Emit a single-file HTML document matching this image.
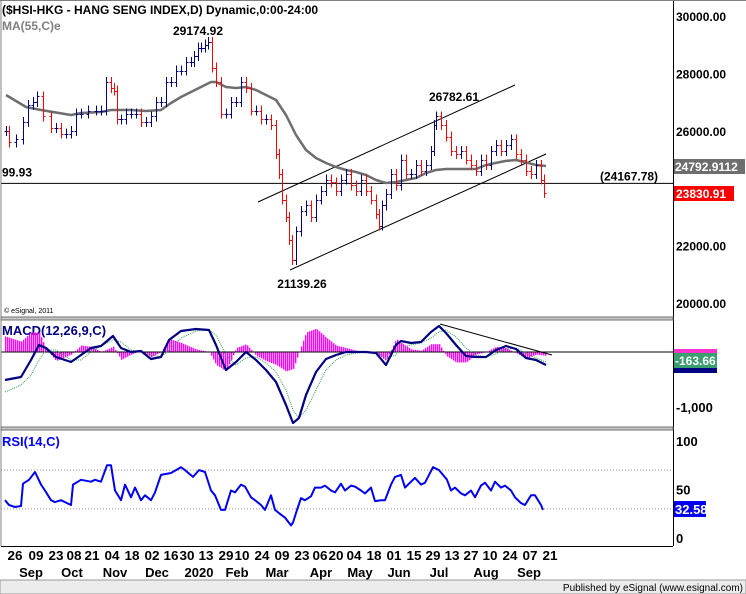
<!DOCTYPE html>
<html><head><meta charset="utf-8">
<style>
html,body{margin:0;padding:0;background:#fff;}
svg{display:block;font-family:"Liberation Sans",Arial,sans-serif;}
</style></head>
<body>
<svg id="chart" width="746" height="594" viewBox="0 0 746 594">
<rect x="0" y="0" width="746" height="594" fill="#fff"/>
<g id="g-main"></g>
<g id="g-macd"></g>
<g id="g-rsi"></g>
<g id="g-axis"></g>
</svg>
<script>
// ---- data ----
const priceDays = [2.5,4,7.5,11,13.5,16,18,21,25,27.5,30,32.5,35,37.5,40,43.5,47.5,50,52.5,55,56.5,58,60,62.5,65,67.5,70,72.5,75,77.5,80,82.5,85,87.5,90,92.5,95,96.5,98.5,100,102,103.5,105.5,107.5,110,112.5,115,117.5,120,122.5,125,127.5,130,132.5,135,137.5,139,140.5,142.5,144,145.5,147.5,150,152.5,155,157.5,160,162.5,165,167.5,170,172.5,175,177.5,180,182.5,185,187.5,189,190.5,192.5,195,197.5,200,202.5,205,207.5,210,212.5,215,216.5,217.5,220,222.5,225,227.5,230,232.5,235,237.5,240,242.5,245,247.5,250,252.5,255,257.5,260,262.5,265,267.5,270,271.5];
const priceClose = [26000,25600,25700,26300,26900,27000,27200,26500,26100,26100,25900,25900,26000,26600,26600,26700,26700,26700,27700,27500,27400,26400,26400,26600,26600,26600,26300,26300,26500,27000,27000,27700,27700,28100,28100,28400,28400,28600,28900,28900,29000,29100,28200,27700,26600,26600,27000,27000,27700,27500,26700,26700,26400,26400,26200,25200,24500,23600,23000,22200,21500,22500,23200,23400,23000,23600,23900,24300,24200,23900,24300,24500,24100,23900,24300,23900,23600,23100,22700,23400,23800,24500,24100,25000,24500,24500,24800,24600,24800,25300,26200,26500,26200,25800,25300,25200,25300,25000,24800,24600,25000,24800,25300,25500,25300,25500,25700,25200,25000,24600,24500,24800,24300,23830];
const maDays = [2.5,12.5,20,35,40,50,55,65,72.5,80,85,90,95,100,105,107.5,112.5,117.5,122.5,127.5,132.5,137.5,142.5,147.5,152.5,157.5,162.5,167.5,172.5,177.5,182.5,187.5,192.5,197.5,202.5,207.5,212.5,217.5,222.5,227.5,232.5,237.5,242.5,247.5,252.5,257.5,262.5,267.5,272.5];
const maVals = [27248,26830,26725,26551,26620,26655,26725,26725,26690,26725,26969,27178,27352,27526,27700,27700,27526,27491,27526,27422,27248,27074,26551,25854,25332,25053,24879,24740,24635,24565,24461,24286,24181,24216,24286,24356,24530,24635,24670,24670,24670,24670,24809,24880,24950,24983,24900,24810,24774];
const macdDays = [2,10,15,19,22.5,27.5,35,40,45,50,56,60,65,70,75,80,84,90,97.5,104,107.5,112.5,117.5,122.5,127.5,132.5,137.5,142.5,146,149,152.5,157.5,162.5,167.5,172.5,177.5,182.5,187.5,192.5,197.5,200,205,210,215,219,222.5,227.5,232.5,237.5,242.5,247.5,252.5,257.5,262.5,267.5,272.5];
const macdVals = [-509,-455,-145,127,73,-91,-182,-55,73,109,291,73,0,18,-127,-91,218,382,418,400,127,-327,-182,0,-145,-327,-545,-964,-1291,-1200,-782,-364,-127,-55,0,0,0,-18,-236,127,200,164,182,364,473,345,127,-73,-91,-91,36,109,55,-109,-145,-236];
const signalVals = [-727,-600,-418,-145,36,36,-145,-145,0,109,218,182,36,0,-55,-91,36,255,382,400,309,-55,-236,-109,-91,-200,-364,-691,-1055,-1200,-1055,-691,-327,-145,-55,-18,0,0,-109,-55,73,127,164,255,364,400,273,73,-55,-91,-36,55,73,-18,-109,-182];
const rsiDays = [2,4,7,10,11,14,17,20,22,25,27,30,32,35,36,40,45,47,50,53,55,57,60,62,65,67,70,72,75,77,80,85,90,92,96,99,102,105,107,110,112,115,117,120,122,125,127,130,132,135,137,140,142,145,146,148,150,152,155,157,160,162,165,167,170,172,175,177,180,182,185,187,190,192,195,197,200,202,205,207,210,212,216,219,221,223,225,227,230,232,235,237,240,242,245,247,250,252,255,257,260,262,265,267,270,271];
const rsiVals = [39,34,32,33,56,60,68,55,49,39,37,39,37,34,55,60,58,60,58,75,75,49,39,55,42,52,39,44,39,47,65,67,73,70,63,70,68,49,44,29,29,49,47,55,53,42,39,34,29,44,29,24,21,13,16,29,41,39,43,52,52,54,49,47,56,49,54,53,49,46,52,38,39,39,55,63,65,52,58,62,55,57,73,70,65,60,49,52,46,44,49,42,54,57,49,58,52,54,49,42,36,34,44,44,34,29];
const dateLabels = ["26","09","23","08","21","04","18","02","16","30","13","29","10","24","09","23","06","20","04","18","01","15","29","13","27","10","24","07","21"];
const dateDays = [7,17.5,27.5,36.5,45.5,55.5,65.5,75.5,85,93,102.5,112.5,120.5,130.5,140.5,150.5,159.5,167.5,176.5,186.5,196.5,206.5,216,225.5,235,244.5,254.5,264.5,274.5];
const monthLabels = ["Sep","Oct","Nov","Dec","2020","Feb","Mar","Apr","May","Jun","Jul","Aug","Sep"];
const monthDays = [15,35.5,57,78,99,118,138,160,179.5,199,219,242.5,264];
const priceTicks = [30000,28000,26000,22000,20000];

// ---- scales ----
const NS='http://www.w3.org/2000/svg';
const X = d => 1 + d*2;
const PY = p => 16 + (30000-p)*0.0287;
const MY = v => 352 - v*0.055;
const RY = v => 538 - v*0.97;
function mk(tag, attrs, parent, text){
  const e=document.createElementNS(NS,tag);
  for(const k in attrs) e.setAttribute(k,attrs[k]);
  if(text!==undefined) e.textContent=text;
  parent.appendChild(e); return e;
}
const gM=document.getElementById('g-main'), gD=document.getElementById('g-macd'), gR=document.getElementById('g-rsi'), gA=document.getElementById('g-axis');

// ---- frame ----
let e;
e=mk('line',{x1:1,y1:0,x2:1,y2:546,stroke:'#808080','stroke-width':1},gA);


e=mk('line',{x1:673.5,y1:0,x2:673.5,y2:546,stroke:'#000','stroke-width':1},gA);


e=mk('line',{x1:0,y1:0.5,x2:746,y2:0.5,stroke:'#808080','stroke-width':1},gA);


[[317,320],[427,430]].forEach(([a,b],i)=>{
  e=mk('rect',{x:1,y:a,width:672,height:b-a,fill:'#c8c8c8',stroke:'#707070','stroke-width':1},gA);
  
  
});
e=mk('line',{x1:1,y1:546.5,x2:673,y2:546.5,stroke:'#000','stroke-width':1},gA);



// ---- main panel ----
e=mk('text',{x:2,y:14,'font-size':12,'font-weight':'bold',fill:'#000'},gM,'($HSI-HKG - HANG SENG INDEX,D) Dynamic,0:00-24:00');


e=mk('text',{x:2,y:30,'font-size':12,'font-weight':'bold',fill:'#808080'},gM,'MA(55,C)e');


priceTicks.forEach(p=>{
  e=mk('text',{x:676,y:PY(p)+5,'font-size':12,'font-weight':'bold',fill:'#000'},gM,p.toFixed(2));
  
  
});
e=mk('line',{x1:1,y1:PY(24167.78),x2:673,y2:PY(24167.78),stroke:'#000','stroke-width':1},gM);


e=mk('text',{x:600,y:PY(24167.78)-3,'font-size':12,'font-weight':'bold',fill:'#000'},gM,'(24167.78)');


e=mk('text',{x:2,y:PY(24167.78)-7,'font-size':12,'font-weight':'bold',fill:'#000'},gM,'99.93');


e=mk('line',{x1:258,y1:202,x2:515,y2:85,stroke:'#000','stroke-width':1},gM);


e=mk('line',{x1:290,y1:270,x2:546,y2:154,stroke:'#000','stroke-width':1},gM);


e=mk('polyline',{points:maDays.map((d,i)=>X(d)+','+PY(maVals[i]).toFixed(1)).join(' '),fill:'none',stroke:'#6e6e6e','stroke-width':2.5,'stroke-linejoin':'round'},gM);


priceDays.forEach((d,i)=>{
  const c=priceClose[i], o= i>0?priceClose[i-1]:c;
  const down=c<o; const col=down?'#ff0000':'#000080';
  const hi=Math.max(o,c), lo=Math.min(o,c);
  const g=mk('g',{'shape-rendering':'crispEdges'},gM);
  
  
  const x=Math.round(X(d))+0.5;
  mk('line',{x1:x,y1:PY(hi)-5,x2:x,y2:PY(lo)+5,stroke:col,'stroke-width':1.3},g);
  mk('line',{x1:x-2,y1:Math.round(PY(o))+0.5,x2:x,y2:Math.round(PY(o))+0.5,stroke:col,'stroke-width':1},g);
  mk('line',{x1:x,y1:Math.round(PY(c))+0.5,x2:x+2,y2:Math.round(PY(c))+0.5,stroke:col,'stroke-width':1},g);
});
e=mk('text',{x:198,y:35,'font-size':12,'font-weight':'bold','text-anchor':'middle',fill:'#000'},gM,'29174.92');


e=mk('text',{x:302,y:288,'font-size':12,'font-weight':'bold','text-anchor':'middle',fill:'#000'},gM,'21139.26');


e=mk('text',{x:454,y:101,'font-size':12,'font-weight':'bold','text-anchor':'middle',fill:'#000'},gM,'26782.61');


e=mk('text',{x:4,y:313,'font-size':7,fill:'#000'},gM,'© eSignal, 2011');


e=mk('rect',{x:674,y:159,width:71,height:15,fill:'#6e6e6e'},gM);


e=mk('text',{x:675,y:171,'font-size':12,'font-weight':'bold',fill:'#fff'},gM,'24792.9112');


e=mk('rect',{x:674,y:186,width:60,height:15,fill:'#ff0000'},gM);


e=mk('text',{x:676,y:198,'font-size':12,'font-weight':'bold',fill:'#fff'},gM,'23830.91');



// ---- MACD panel ----
e=mk('text',{x:2,y:335,'font-size':13,'font-weight':'bold',fill:'#000080'},gD,'MACD(12,26,9,C)');


for(let d=macdDays[0]; d<=macdDays[macdDays.length-1]; d+=1){
  let k=0; while(k<macdDays.length-2 && macdDays[k+1]<d) k++;
  const t=(d-macdDays[k])/(macdDays[k+1]-macdDays[k]);
  const diff=(macdVals[k]+(macdVals[k+1]-macdVals[k])*t)-(signalVals[k]+(signalVals[k+1]-signalVals[k])*t);
  const h=diff*1.3;
  e=mk('rect',{x:Math.round(X(d)),y:Math.min(MY(0),MY(h)),width:1.4,height:Math.abs(MY(h)-MY(0)),fill:'#ff00ff'},gD);
  
  
}
e=mk('line',{x1:1,y1:MY(0),x2:673,y2:MY(0),stroke:'#000','stroke-width':1},gD);


e=mk('polyline',{points:macdDays.map((d,i)=>X(d)+','+MY(signalVals[i]).toFixed(1)).join(' '),fill:'none',stroke:'#2e9e4e','stroke-width':1,'stroke-dasharray':'1,1'},gD);


e=mk('polyline',{points:macdDays.map((d,i)=>X(d)+','+MY(macdVals[i]).toFixed(1)).join(' '),fill:'none',stroke:'#000080','stroke-width':2.2,'stroke-linejoin':'round'},gD);


e=mk('line',{x1:440,y1:324,x2:552,y2:355,stroke:'#000','stroke-width':1},gD);


e=mk('text',{x:676,y:MY(-1000)+5,'font-size':13,'font-weight':'bold',fill:'#000'},gD,'-1,000');


e=mk('rect',{x:674,y:349,width:43,height:8,fill:'#ff33cc'},gD);


e=mk('rect',{x:674,y:365,width:43,height:8,fill:'#000080'},gD);


e=mk('rect',{x:674,y:353,width:43,height:15,fill:'#3a9e6e'},gD);


e=mk('text',{x:675,y:365,'font-size':12,'font-weight':'bold',fill:'#fff'},gD,'-163.66');



// ---- RSI panel ----
e=mk('text',{x:2,y:446,'font-size':13,'font-weight':'bold',fill:'#0000ff'},gR,'RSI(14,C)');


[70,30].forEach(v=>{
  e=mk('line',{x1:1,y1:RY(v),x2:673,y2:RY(v),stroke:'#999','stroke-width':1,'stroke-dasharray':'1,2'},gR);
  
  
});
[100,50,0].forEach(v=>{
  e=mk('text',{x:676,y:RY(v)+5,'font-size':13,'font-weight':'bold',fill:'#000'},gR,String(v));
  
  
});
e=mk('polyline',{points:rsiDays.map((d,i)=>X(d)+','+RY(rsiVals[i]).toFixed(1)).join(' '),fill:'none',stroke:'#0000ee','stroke-width':2,'stroke-linejoin':'round'},gR);


e=mk('rect',{x:674,y:501,width:32,height:16,fill:'#0000ee'},gR);


e=mk('text',{x:675,y:514,'font-size':13,'font-weight':'bold',fill:'#fff'},gR,'32.58');



// ---- X axis ----
dateLabels.forEach((t,i)=>{
  e=mk('text',{x:X(dateDays[i]),y:560,'font-size':13,'font-weight':'bold','text-anchor':'middle',fill:'#000',textLength:15,lengthAdjust:'spacingAndGlyphs'},gA,t);
  
  
});
monthLabels.forEach((t,i)=>{
  e=mk('text',{x:X(monthDays[i]),y:577,'font-size':13,'font-weight':'bold','text-anchor':'middle',fill:'#000'},gA,t);
  
  
});
e=mk('rect',{x:0,y:580,width:746,height:14,fill:'#ececec',stroke:'#999','stroke-width':1},gA);


e=mk('text',{x:743,y:591,'font-size':10,'text-anchor':'end',fill:'#000'},gA,'Published by eSignal (www.esignal.com)');


</script>
</body></html>
